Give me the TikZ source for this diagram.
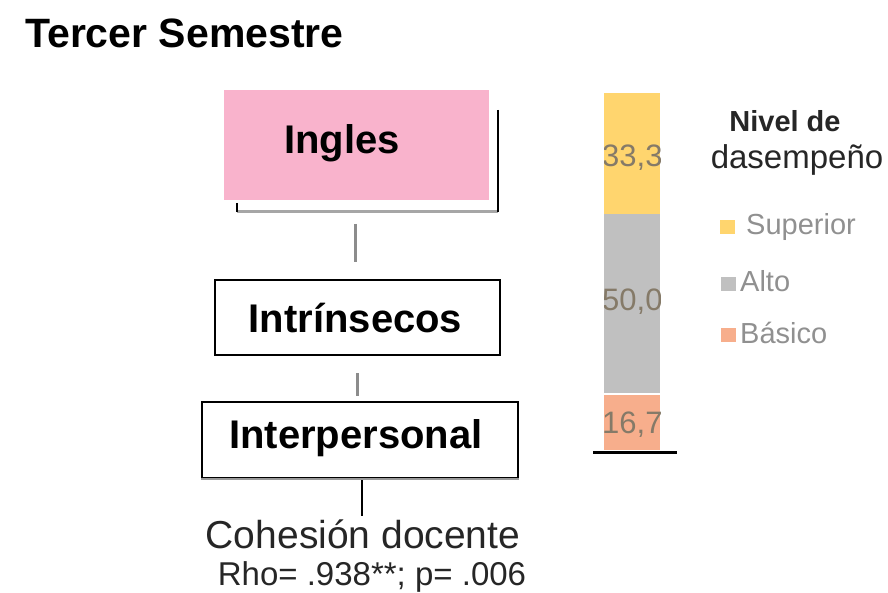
\documentclass[tikz,border=0pt]{standalone}
\usepackage{fontspec}
\setmainfont{Liberation Sans}
\definecolor{pinkfill}{HTML}{F9B3CC}
\definecolor{barY}{HTML}{FFD56E}
\definecolor{barG}{HTML}{C0C0C0}
\definecolor{barO}{HTML}{F7AE8C}
\definecolor{lblgray}{HTML}{857A68}
\definecolor{leggray}{HTML}{909090}
\definecolor{conngray}{HTML}{8C8C8C}
\tikzset{
  boldtxt/.style={font=\fontsize{40}{44}\selectfont\bfseries, inner sep=0pt},
  framebox/.style={draw=black, line width=1.6pt, fill=white, inner sep=0pt},
  grayconn/.style={draw=conngray, line width=3pt},
  blackconn/.style={draw=black, line width=2.5pt},
  barlbl/.style={font=\fontsize{31}{33}\selectfont, text=lblgray, inner sep=0pt},
  legtxt/.style={font=\fontsize{29}{31}\selectfont, text=leggray, inner sep=0pt, anchor=west},
  legsq/.style={minimum width=15pt, minimum height=14pt, inner sep=0pt},
}
\begin{document}
\begin{tikzpicture}[x=1pt,y=-1pt]
\useasboundingbox (0,0) rectangle (888,593);
% title
\node[font=\fontsize{41}{44}\selectfont\bfseries, inner sep=0pt, anchor=west] (title) at (25,33) {Tercer Semestre};
% Ingles box with bracket
\node[fill=pinkfill, minimum width=265pt, minimum height=110pt, inner sep=0pt] (ingles) at (356,145) {};
\node[boldtxt] (inglesT) at (342,143) {Ingles};
\coordinate (brL) at (237,203);
\coordinate (brLb) at (237,212);
\coordinate (brRt) at (498,110);
\coordinate (brRb) at (498,212);
\draw[draw=gray!70, line width=3pt] (brLb) -- (brRb);
\draw[black, line width=2pt] (brL) -- (brLb);
\draw[black, line width=2pt] (brRt) -- (brRb);
% Intrinsecos
\node[framebox, minimum width=285pt, minimum height=75pt] (intr) at (357.5,317.5) {};
\node[boldtxt] (intrT) at (355.5,318) {Intrínsecos};
% Interpersonal
\node[framebox, minimum width=316pt, minimum height=76pt] (inter) at (360,440) {};
\draw[draw=gray!80, line width=2.5pt] (inter.south west) -- (inter.south east);
\node[boldtxt] (interT) at (356,438) {Interpersonal};
% connectors
\coordinate (c1a) at (355,224);
\coordinate (c1b) at (355,262);
\draw[grayconn] (c1a) -- (c1b);
\coordinate (c2a) at (357,373);
\coordinate (c2b) at (357,396);
\draw[grayconn] (c2a) -- (c2b);
\coordinate (c3a) at (362,480);
\coordinate (c3b) at (362,516);
\draw[blackconn] (c3a) -- (c3b);
% bottom texts
\node[font=\fontsize{39}{42}\selectfont, inner sep=0pt, text=black!85] (coh) at (363,534) {Cohesión docente};
\node[font=\fontsize{33}{35}\selectfont, inner sep=0pt, text=black!85] (rho) at (372,577) {Rho= .938**; p= .006};
% stacked bar
\fill[barY] (604,93) rectangle (660,214);
\fill[barG] (604,214) rectangle (660,393);
\fill[barO] (604,395) rectangle (660,450);
\begin{scope}
\clip (604,93) rectangle (660,450);
\node[barlbl, anchor=west] (l1) at (602,158) {33,3};
\node[barlbl, anchor=west] (l2) at (602,302) {50,0};
\node[barlbl, anchor=west] (l3) at (602,425) {16,7};
\end{scope}
\coordinate (axL) at (593,452);
\coordinate (axR) at (677,452);
\draw[black, line width=3pt] (axL) -- (axR);
% legend
\node[font=\fontsize{29}{32}\selectfont\bfseries, inner sep=0pt, text=black!85] (leg1) at (785,121) {Nivel de};
\node[font=\fontsize{33}{35}\selectfont, inner sep=0pt, text=black!85] (leg2) at (797,160) {dasempeño};
\node[legsq, fill=barY] (sq1) at (727,227) {};
\node[legtxt] (t1) at (746,227) {Superior};
\node[legsq, fill=barG] (sq2) at (728,284) {};
\node[legtxt] (t2) at (740,281) {Alto};
\node[legsq, fill=barO] (sq3) at (728,335) {};
\node[legtxt] (t3) at (740,333) {Básico};
\end{tikzpicture}
\end{document}
